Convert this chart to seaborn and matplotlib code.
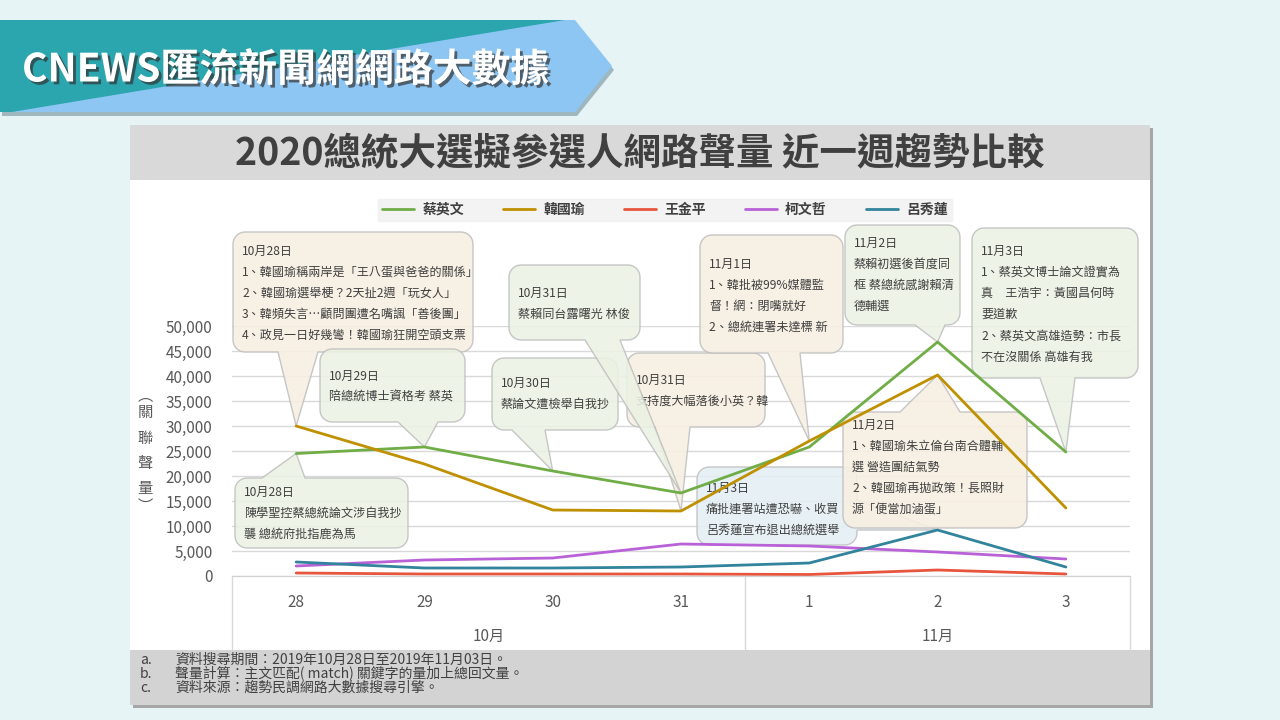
import numpy as np
import pandas as pd
import matplotlib
matplotlib.use('Agg')
import matplotlib.pyplot as plt
import matplotlib.transforms as mtrans
import matplotlib.patheffects as pe
from matplotlib.patches import Polygon, Rectangle
import seaborn as sns

# data
days = ['28', '29', '30', '31', '1', '2', '3']
months = ['10月', '11月']
names = ['蔡英文', '韓國瑜', '王金平', '柯文哲', '呂秀蓮']
tsai = [24500, 25800, 21000, 16600, 25800, 46800, 24800]
han = [30000, 22400, 13200, 13000, 27000, 40200, 13600]
wang = [600, 400, 400, 400, 300, 1200, 400]
ko = [2000, 3200, 3600, 6400, 6000, 4800, 3400]
lu = [2800, 1600, 1600, 1800, 2600, 9200, 1800]
colors = ['#70ad47', '#bf9000', '#e8553d', '#b962d8', '#31849b']
yticks = list(range(0, 50001, 5000))

footnotes = [('a.', '資料搜尋期間：2019年10月28日至2019年11月03日。'),
             ('b.', '聲量計算：主文匹配( match) 關鍵字的量加上總回文量。'),
             ('c.', '資料來源：趨勢民調網路大數據搜尋引擎。')]

# callouts: box (x0, y0, x1, y1 px), tail side, tail base, target (series, day), colour, text
callouts = [
    dict(box=(233, 232, 473, 352), side='bottom', base=(278, 318), target=('韓國瑜', 0), fc='#f7efe1',
         lines=['10月28日', '1、韓國瑜稱兩岸是「王八蛋與爸爸的關係」', '2、韓國瑜選舉梗？2天扯2週「玩女人」',
                '3、韓頻失言…顧問團遭名嘴諷「善後團」', '4、政見一日好幾彎！韓國瑜狂開空頭支票'], y=251),
    dict(box=(320, 349, 465, 422), side='bottom', base=(398, 438), target=('蔡英文', 1), fc='#ebf2e3',
         lines=['10月29日', '陪總統博士資格考 蔡英'], y=376),
    dict(box=(235, 478, 408, 548), side='top', base=(262, 305), target=('蔡英文', 0), fc='#ebf2e3',
         lines=['10月28日', '陳學聖控蔡總統論文涉自我抄', '襲 總統府批指鹿為馬'], y=492),
    dict(box=(492, 358, 618, 430), side='bottom', base=(512, 545), target=('蔡英文', 2), fc='#ebf2e3',
         lines=['10月30日', '蔡論文遭檢舉自我抄'], y=383),
    dict(box=(627, 353, 765, 427), side='bottom', base=(655, 690), target=('韓國瑜', 3), fc='#f7efe1',
         lines=['10月31日', '支持度大幅落後小英？韓'], y=380),
    dict(box=(509, 265, 640, 340), side='bottom', base=(585, 620), target=('蔡英文', 3), fc='#ebf2e3',
         lines=['10月31日', '蔡賴同台露曙光 林俊'], y=293),
    dict(box=(700, 235, 843, 353), side='bottom', base=(768, 800), target=('韓國瑜', 4), fc='#f7efe1',
         lines=['11月1日', '1、韓批被99%媒體監', '督！網：閉嘴就好', '2、總統連署未達標 新'], y=264),
    dict(box=(845, 225, 960, 325), side='bottom', base=(915, 945), target=('蔡英文', 5), fc='#ebf2e3',
         lines=['11月2日', '蔡賴初選後首度同', '框 蔡總統感謝賴清', '德輔選'], y=243),
    dict(box=(972, 228, 1138, 378), side='bottom', base=(1040, 1075), target=('蔡英文', 6), fc='#ebf2e3',
         lines=['11月3日', '1、蔡英文博士論文證實為', '真　王浩宇：黃國昌何時', '要道歉',
                '2、蔡英文高雄造勢：市長', '不在沒關係 高雄有我'], y=251),
    dict(box=(697, 467, 857, 545), side='right', base=(500, 530), target=('呂秀蓮', 5), fc='#e4eff4',
         lines=['11月3日', '痛批連署站遭恐嚇、收買', '呂秀蓮宣布退出總統選舉'], y=488),
    dict(box=(843, 412, 1027, 528), side='top', base=(900, 960), target=('韓國瑜', 5), fc='#f7efe1',
         lines=['11月2日', '1、韓國瑜朱立倫台南合體輔', '選 營造團結氣勢', '2、韓國瑜再拋政策！長照財',
                '源「便當加滷蛋」'], y=425),
]

series = dict(zip(names, [tsai, han, wang, ko, lu]))
df = pd.DataFrame({'pos': np.tile(np.arange(len(days)), len(names)),
                   'val': tsai + han + wang + ko + lu,
                   'name': np.repeat(names, len(days))})

sns.set_style('white')
plt.rcParams['font.family'] = ['Noto Sans CJK TC', 'DejaVu Sans']

W, H = 1280, 720
fig = plt.figure(figsize=(12.8, 7.2), dpi=100)
fig.patch.set_facecolor('#e7f4f6')


def fx(x):
    return x / W


def fy(y):
    return 1 - y / H


def rect(x0, y0, x1, y1, **kw):
    fig.add_artist(Rectangle((fx(x0), fy(y1)), fx(x1) - fx(x0), fy(y0) - fy(y1),
                             transform=fig.transFigure, **kw))


# header banner
arrow = [(0, 20), (575, 20), (612, 66), (575, 112), (0, 112)]
fig.add_artist(Polygon([(fx(x + 2), fy(y + 4)) for x, y in arrow], transform=fig.transFigure,
                       fc='#6f8f99', ec='none', alpha=0.6, zorder=-5))
fig.add_artist(Polygon([(fx(x), fy(y)) for x, y in arrow], transform=fig.transFigure,
                       fc='#8ec6f3', ec='none', zorder=-4))
teal = [(0, 20), (565, 20), (12, 112), (0, 112)]
fig.add_artist(Polygon([(fx(x), fy(y)) for x, y in teal], transform=fig.transFigure,
                       fc='#2ba6af', ec='none', zorder=-4))
fig.text(fx(22), fy(70), 'CNEWS匯流新聞網網路大數據', color='white', fontsize=28, weight='bold',
         va='center', ha='left',
         path_effects=[pe.withSimplePatchShadow(offset=(2, -2), shadow_rgbFace='#333333', alpha=0.7)])

# chart panel
rect(133, 128, 1153, 708, fc='#a6a6a6', ec='none', zorder=-4)
rect(130, 125, 1150, 705, fc='white', ec='none', zorder=-3)
rect(130, 125, 1150, 180, fc='#d9d9d9', ec='none', zorder=-2)
rect(130, 650, 1150, 705, fc='#d3d3d3', ec='none', zorder=-2)
fig.text(fx(640), fy(154), '2020總統大選擬參選人網路聲量 近一週趨勢比較', fontsize=27, weight='bold',
         color='#404040', ha='center', va='center')
for i, (tag, txt) in enumerate(footnotes):
    fig.text(fx(140), fy(660 + 14 * i), tag, fontsize=10, color='#404040', va='center')
    fig.text(fx(175), fy(660 + 14 * i), txt, fontsize=10, color='#404040', va='center')

# axes
ax = fig.add_axes([fx(232), fy(576), fx(1130) - fx(232), fy(326) - fy(576)])
ax.set_facecolor('none')
sns.lineplot(data=df, x='pos', y='val', hue='name', hue_order=names, palette=colors,
             linewidth=2.0, ax=ax, zorder=2)
ax.set_xlim(-0.5, len(days) - 0.5)
ax.set_ylim(0, 50000)
ax.set_yticks(yticks)
ax.set_yticklabels([f'{v:,}' for v in yticks])
ax.set_xticks(range(len(days)))
ax.set_xticklabels(days)
ax.tick_params(axis='y', length=0, pad=14, labelsize=11, labelcolor='#595959')
ax.tick_params(axis='x', length=0, pad=13, labelsize=11, labelcolor='#595959')
ax.set_xlabel('')
ax.set_ylabel('')
ax.set_axisbelow(True)
ax.yaxis.grid(True, color='#d9d9d9', linewidth=1)
for s in ['top', 'right', 'left']:
    ax.spines[s].set_visible(False)
ax.spines['bottom'].set_color('#d0d0d0')

blend = mtrans.blended_transform_factory(ax.transData, ax.transAxes)
sep_bottom = -(650 - 576) / 250
for xs in [-0.5, 3.5, len(days) - 0.5]:
    ax.plot([xs, xs], [0, sep_bottom], transform=blend, color='#d9d9d9', lw=1, clip_on=False)
for m, xc in zip(months, [1.5, 5.0]):
    ax.text(xc, -(636 - 576) / 250, m, transform=blend, ha='center', va='center',
            fontsize=11, color='#595959')

for ch, yy in zip(['︵', '關', '聯', '聲', '量', '︶'], [396, 413, 438, 463, 488, 506]):
    fig.text(fx(145), fy(yy), ch, fontsize=11, color='#595959', ha='center', va='center')

handles, labels = ax.get_legend_handles_labels()
ax.get_legend().remove()
leg = fig.legend(handles, labels, loc='center', bbox_to_anchor=(fx(665), fy(210)), ncol=5,
                 frameon=True, fancybox=False, facecolor='#f0f0f0', edgecolor='#f0f0f0',
                 prop=dict(weight='bold', size=10), handlelength=2.3, handletextpad=0.6,
                 columnspacing=2.8, borderpad=0.3)
for t in leg.get_texts():
    t.set_color('#404040')


def bubble(x0, y0, x1, y1, side, a, b, tip, r=12):
    def arc(cx, cy, t0, t1):
        t = np.radians(np.linspace(t0, t1, 8))
        return [(cx + r * np.cos(tt), cy + r * np.sin(tt)) for tt in t]
    pts = arc(x0 + r, y0 + r, 180, 270)
    if side == 'top':
        pts += [(a, y0), tip, (b, y0)]
    pts += arc(x1 - r, y0 + r, 270, 360)
    if side == 'right':
        pts += [(x1, a), tip, (x1, b)]
    pts += arc(x1 - r, y1 - r, 0, 90)
    if side == 'bottom':
        pts += [(b, y1), tip, (a, y1)]
    pts += arc(x0 + r, y1 - r, 90, 180)
    return [(fx(x), fy(y)) for x, y in pts]


for k, c in enumerate(callouts):
    name, di = c['target']
    px, py = ax.transData.transform((di, series[name][di]))
    tip = (px, H - py)
    x0, y0, x1, y1 = c['box']
    poly = Polygon(bubble(x0, y0, x1, y1, c['side'], c['base'][0], c['base'][1], tip),
                   transform=fig.transFigure, fc=c['fc'], ec='#bfbfbf', lw=1, alpha=0.88,
                   zorder=1.0 + k * 0.05, clip_on=False)
    ax.add_artist(poly)
    for j, line in enumerate(c['lines']):
        ax.text(fx(x0 + 9), fy(c['y'] + 21.2 * j), line, transform=fig.transFigure, fontsize=8.7,
                color='#404040', va='center', ha='left', zorder=1.02 + k * 0.05, clip_on=False)

fig.savefig('out.png', dpi=100, facecolor=fig.get_facecolor())
